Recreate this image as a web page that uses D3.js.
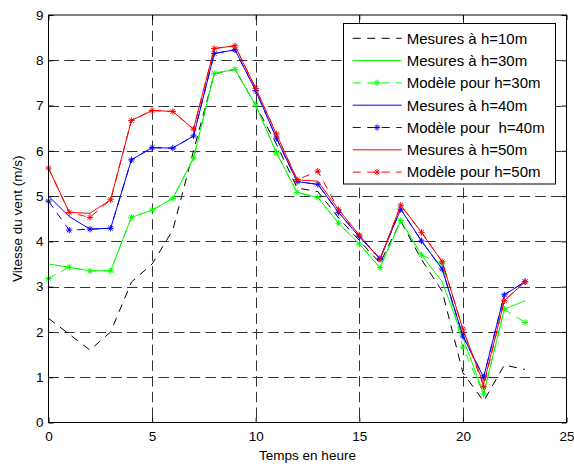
<!DOCTYPE html>
<html><head><meta charset="utf-8">
<script src="https://cdn.jsdelivr.net/npm/d3@7"></script>
<style>body{margin:0;background:#fff}svg{display:block}</style>
</head><body>
<script>
const hours = d3.range(0, 24);
const xTicks = [0, 5, 10, 15, 20, 25];
const yTicks = [0, 1, 2, 3, 4, 5, 6, 7, 8, 9];
const mes10 = [2.3, 1.95, 1.6, 2.0, 3.1, 3.5, 4.25, 6.0, 7.7, 7.8, 7.0, 6.15, 5.18, 5.1, 4.52, 4.02, 3.52, 4.45, 3.6, 2.9, 1.1, 0.47, 1.27, 1.17];
const mes30 = [3.5, 3.43, 3.35, 3.35, 4.53, 4.69, 4.95, 5.84, 7.71, 7.8, 7.01, 5.96, 5.08, 4.97, 4.4, 3.94, 3.42, 4.46, 3.7, 3.11, 1.87, 0.63, 2.5, 2.69];
const mod30 = [3.18, 3.43, 3.35, 3.35, 4.53, 4.69, 4.95, 5.84, 7.71, 7.8, 7.01, 5.96, 5.08, 4.97, 4.4, 3.94, 3.42, 4.46, 3.7, 3.5, 1.66, 0.63, 2.5, 2.21];
const mes40 = [5.0, 4.55, 4.27, 4.29, 5.8, 6.07, 6.06, 6.33, 8.15, 8.23, 7.33, 6.28, 5.32, 5.26, 4.64, 4.1, 3.62, 4.71, 4.01, 3.39, 1.91, 1.0, 2.82, 3.11];
const mod40 = [4.89, 4.25, 4.27, 4.29, 5.8, 6.07, 6.06, 6.33, 8.15, 8.23, 7.33, 6.28, 5.32, 5.26, 4.64, 4.1, 3.62, 4.71, 4.01, 3.39, 1.91, 1.0, 2.82, 3.11];
const mes50 = [5.62, 4.64, 4.62, 4.92, 6.67, 6.89, 6.87, 6.48, 8.26, 8.32, 7.38, 6.37, 5.36, 5.33, 4.7, 4.14, 3.6, 4.8, 4.2, 3.55, 2.06, 0.85, 2.69, 3.11];
const mod50 = [5.62, 4.64, 4.53, 4.92, 6.67, 6.89, 6.87, 6.48, 8.26, 8.32, 7.38, 6.37, 5.36, 5.55, 4.7, 4.14, 3.6, 4.8, 4.2, 3.55, 2.06, 0.79, 2.69, 3.11];
const labels = ["Mesures à h=10m", "Mesures à h=30m", "Modèle pour h=30m", "Mesures à h=40m", "Modèle pour  h=40m", "Mesures à h=50m", "Modèle pour h=50m"];
const colors = ["#000000", "#00ff00", "#00ff00", "#0000ff", "#0000ff", "#ff0000", "#ff0000"];
const series = [mes10, mes30, mod30, mes40, mod40, mes50, mod50];
const dashed = [true, false, true, false, true, false, true];
const markers = [false, false, true, false, true, false, true];

const W = 574, H = 464;
const L = 48.5, R = 566.5, T = 15, B = 422.5;
const svg = d3.select("body").append("svg").attr("width", W).attr("height", H);
const x = d3.scaleLinear().domain([0, 25]).range([L, R]);
const y = d3.scaleLinear().domain([0, 9]).range([B, T]);
const font = "'Liberation Sans', Arial, sans-serif";

// grid
const g = svg.append("g");
xTicks.filter(t => t > 0 && t < 25).forEach(t => {
  const px = Math.round(x(t)) + 0.5;
  g.append("line").attr("x1", px).attr("x2", px).attr("y1", T).attr("y2", B)
    .attr("stroke", "#333").attr("stroke-width", 1).attr("stroke-dasharray", "10.5,5.2");
});
yTicks.filter(t => t > 0 && t < 9).forEach(t => {
  const py = Math.round(y(t)) + 0.5;
  g.append("line").attr("x1", L).attr("x2", R).attr("y1", py).attr("y2", py)
    .attr("stroke", "#333").attr("stroke-width", 1).attr("stroke-dasharray", "10.5,5.2");
});

// axes
const xAxisB = d3.axisBottom(x).tickValues(xTicks).tickSizeInner(-5).tickSizeOuter(0).tickPadding(9);
const xAxisT = d3.axisTop(x).tickValues(xTicks).tickSizeInner(-5).tickSizeOuter(0).tickFormat("");
const yAxisL = d3.axisLeft(y).tickValues(yTicks).tickSizeInner(-5).tickSizeOuter(0).tickPadding(5);
const yAxisR = d3.axisRight(y).tickValues(yTicks).tickSizeInner(-5).tickSizeOuter(0).tickFormat("");
function style(sel) {
  sel.selectAll("path").remove();
  sel.selectAll("line").attr("stroke", "#000");
  sel.selectAll("text").attr("font-family", font).attr("font-size", "13.5px").attr("fill", "#000");
}
svg.append("g").attr("transform", `translate(0,${B})`).call(xAxisB).call(style);
svg.append("g").attr("transform", `translate(0,${T})`).call(xAxisT).call(style);
svg.append("g").attr("transform", `translate(${L},0)`).call(yAxisL).call(style);
svg.append("g").attr("transform", `translate(${R},0)`).call(yAxisR).call(style);

// data
const line = d3.line().x((d, i) => x(hours[i])).y(d => y(d));
function star(s, cx, cy, col, r) {
  s.append("path").attr("d", `M${cx - r},${cy}L${cx + r},${cy}M${cx},${cy - r}L${cx},${cy + r}M${cx - r * 0.7},${cy - r * 0.7}L${cx + r * 0.7},${cy + r * 0.7}M${cx - r * 0.7},${cy + r * 0.7}L${cx + r * 0.7},${cy - r * 0.7}`)
    .attr("stroke", col).attr("stroke-width", 1).attr("fill", "none");
}
series.forEach((s, k) => {
  svg.append("path").datum(s).attr("d", line).attr("fill", "none")
    .attr("stroke", colors[k]).attr("stroke-width", 1)
    .attr("stroke-dasharray", dashed[k] ? "8,6.5" : null);
  if (markers[k]) {
    const mg = svg.append("g");
    s.forEach((v, i) => star(mg, x(hours[i]), y(v), colors[k], 3.2));
  }
});

// box
svg.append("rect").attr("x", L).attr("y", T).attr("width", R - L).attr("height", B - T)
  .attr("fill", "none").attr("stroke", "#000").attr("stroke-width", 1);

// axis titles
svg.append("text").attr("x", (L + R) / 2).attr("y", 460).attr("text-anchor", "middle")
  .attr("font-family", font).attr("font-size", "13.5px").text("Temps en heure");
svg.append("text").attr("transform", `translate(21.5,${(T + B) / 2}) rotate(-90)`).attr("text-anchor", "middle")
  .attr("font-family", font).attr("font-size", "13.5px").text("Vitesse du vent (m/s)");

// legend
const lg = svg.append("g");
lg.append("rect").attr("x", 343.5).attr("y", 23.5).attr("width", 212).attr("height", 160.5)
  .attr("fill", "#fff").attr("stroke", "#000").attr("stroke-width", 1);
labels.forEach((lab, k) => {
  const cy = 38.3 + k * 22.3;
  lg.append("line").attr("x1", 352.7).attr("x2", 401.7).attr("y1", cy).attr("y2", cy)
    .attr("stroke", colors[k]).attr("stroke-width", 1).attr("stroke-dasharray", dashed[k] ? "8,6.5" : null);
  if (markers[k]) star(lg, 377, cy, colors[k], 3.2);
  lg.append("text").attr("x", 406.7).attr("y", cy + 5.3).attr("font-family", font).attr("font-size", "15px")
    .style("white-space", "pre").text(lab);
});
</script>
</body></html>
